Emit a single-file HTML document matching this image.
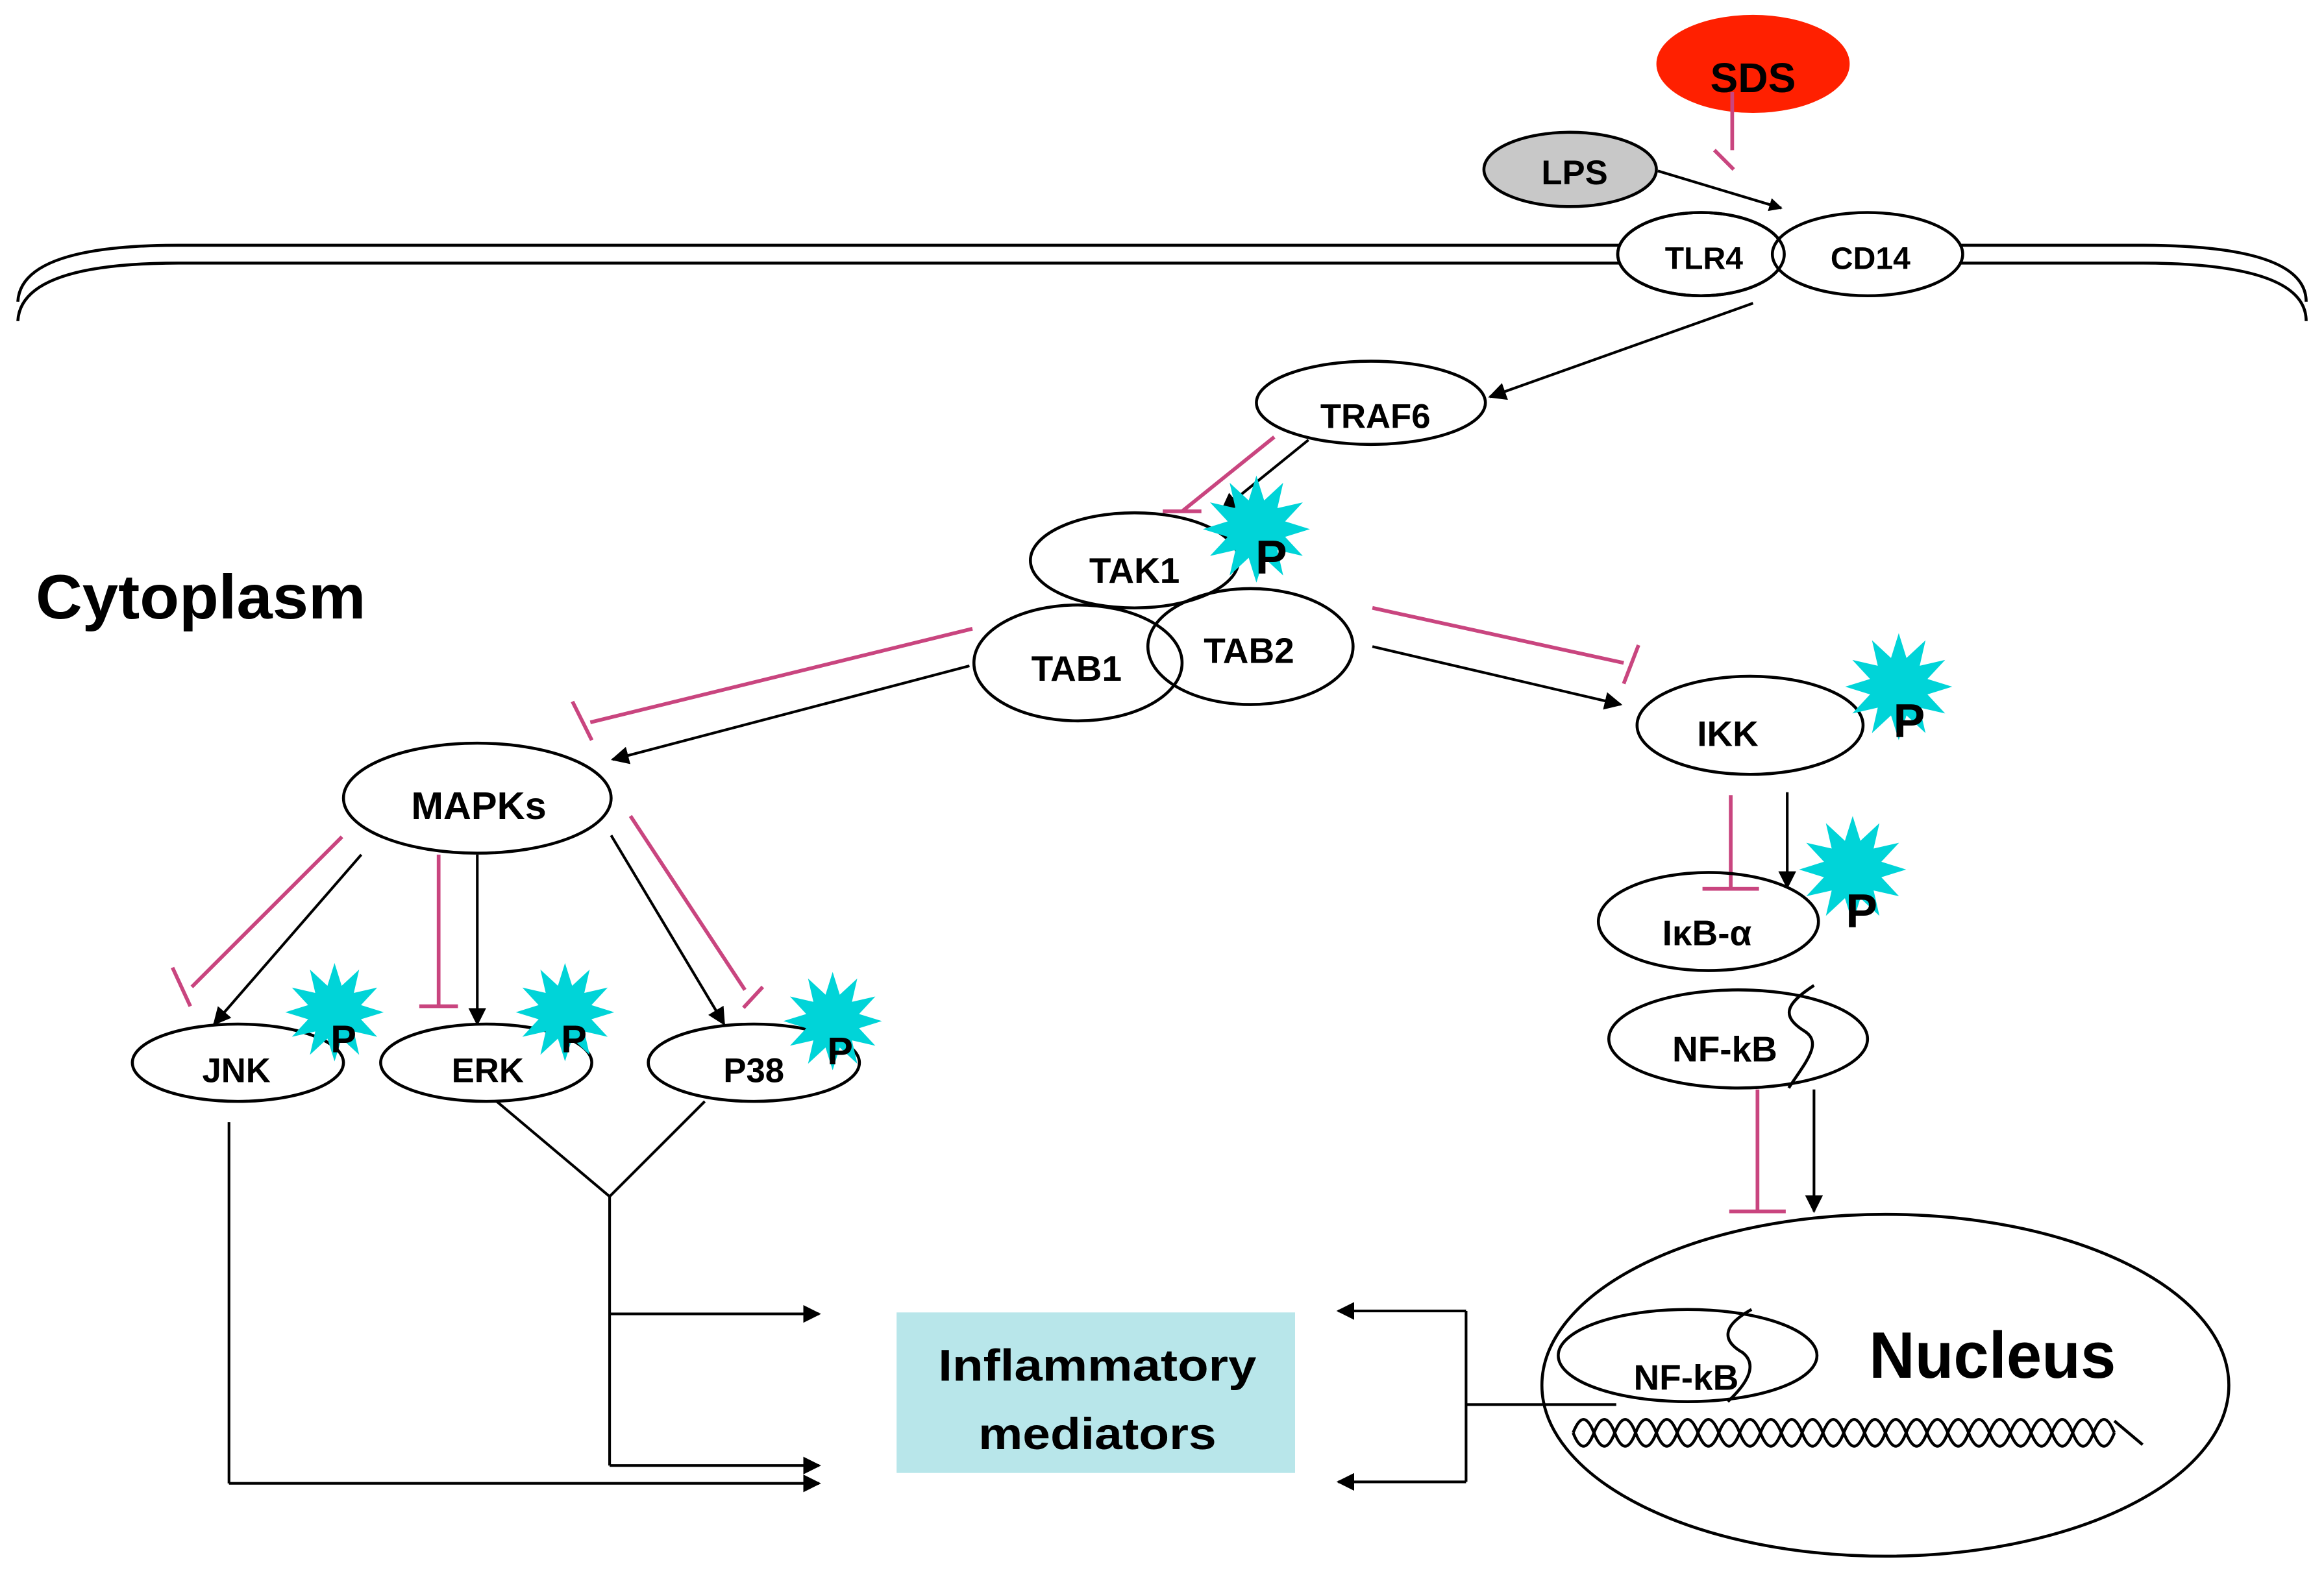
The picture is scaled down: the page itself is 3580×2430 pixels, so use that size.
<!DOCTYPE html>
<html><head><meta charset="utf-8"><style>
html,body{margin:0;padding:0;background:#fff;}
svg{display:block;}
text{font-family:"Liberation Sans",sans-serif;font-weight:bold;fill:#000;}
</style></head><body>
<svg width="3580" height="2430" viewBox="0 0 1563 1061" preserveAspectRatio="none" xmlns="http://www.w3.org/2000/svg">
<defs>
<marker id="ah" viewBox="0 0 10 10" refX="9" refY="5" markerWidth="9" markerHeight="9" markerUnits="userSpaceOnUse" orient="auto"><path d="M0,0 L10,5 L0,10 z" fill="#000"/></marker>
<marker id="ah2" viewBox="0 0 10 10" refX="9" refY="5" markerWidth="12" markerHeight="12" markerUnits="userSpaceOnUse" orient="auto"><path d="M0,0 L10,5 L0,10 z" fill="#000"/></marker>
<polygon id="star" fill="#00d4d8" points="36,0 19.3,5.2 31.2,18 14.1,14.1 18,31.2 5.2,19.3 0,36 -5.2,19.3 -18,31.2 -14.1,14.1 -31.2,18 -19.3,5.2 -36,0 -19.3,-5.2 -31.2,-18 -14.1,-14.1 -18,-31.2 -5.2,-19.3 0,-36 5.2,-19.3 18,-31.2 14.1,-14.1 31.2,-18 19.3,-5.2"/>
</defs>

<!-- membrane -->
<g fill="none" stroke="#000" stroke-width="2">
<path d="M12,203 Q14,165 120,165 L1440,165 Q1551,165 1551,203"/>
<path d="M12,216 Q14,177 120,177 L1440,177 Q1551,177 1551,216"/>
</g>

<!-- SDS / LPS -->
<ellipse cx="1179" cy="43" rx="65" ry="33" fill="#ff2000"/>
<text x="1179" y="62" font-size="28" text-anchor="middle">SDS</text>
<line x1="1165" y1="62" x2="1165" y2="101" stroke="#c9457f" stroke-width="2.5"/>
<line x1="1153" y1="101" x2="1166" y2="114" stroke="#c9457f" stroke-width="2.5"/>
<ellipse cx="1056" cy="114" rx="58" ry="25" fill="#c8c8c8" stroke="#000" stroke-width="2"/>
<text x="1059" y="124" font-size="23" text-anchor="middle">LPS</text>
<line x1="1115" y1="115" x2="1198" y2="140" stroke="#000" stroke-width="1.8" marker-end="url(#ah)"/>

<!-- TLR4 / CD14 -->
<ellipse cx="1144" cy="171" rx="56" ry="28" fill="#fff" stroke="#000" stroke-width="2"/>
<ellipse cx="1256" cy="171" rx="64" ry="28" fill="#fff" stroke="#000" stroke-width="2"/>
<ellipse cx="1144" cy="171" rx="56" ry="28" fill="none" stroke="#000" stroke-width="2"/>
<text x="1146" y="181" font-size="21" text-anchor="middle">TLR4</text>
<text x="1258" y="181" font-size="21" text-anchor="middle">CD14</text>
<line x1="1179" y1="204" x2="1002" y2="267" stroke="#000" stroke-width="1.8" marker-end="url(#ah2)"/>

<!-- TRAF6 -->
<ellipse cx="922" cy="271" rx="77" ry="28" fill="#fff" stroke="#000" stroke-width="2"/>
<text x="925" y="288" font-size="23" text-anchor="middle">TRAF6</text>
<line x1="857" y1="294" x2="795" y2="344" stroke="#c9457f" stroke-width="2.5"/>
<line x1="782" y1="344" x2="808" y2="344" stroke="#c9457f" stroke-width="2.5"/>
<line x1="880" y1="296" x2="822" y2="343" stroke="#000" stroke-width="1.8" marker-end="url(#ah2)"/>

<!-- TAK1 complex -->
<ellipse cx="763" cy="377" rx="70" ry="32" fill="none" stroke="#000" stroke-width="2"/>
<ellipse cx="725" cy="446" rx="70" ry="39" fill="none" stroke="#000" stroke-width="2"/>
<ellipse cx="841" cy="435" rx="69" ry="39" fill="none" stroke="#000" stroke-width="2"/>
<use href="#star" transform="translate(845,356) scale(1.0)"/>
<text x="763" y="392" font-size="24" text-anchor="middle">TAK1</text>
<text x="724" y="458" font-size="24" text-anchor="middle">TAB1</text>
<text x="840" y="446" font-size="24" text-anchor="middle">TAB2</text>
<text x="855" y="386" font-size="32" text-anchor="middle">P</text>

<text x="24" y="416" font-size="42" textLength="222" lengthAdjust="spacingAndGlyphs">Cytoplasm</text>

<!-- TAB to MAPKs -->
<line x1="654" y1="423" x2="397" y2="486" stroke="#c9457f" stroke-width="2.5"/>
<line x1="385" y1="472" x2="398" y2="498" stroke="#c9457f" stroke-width="2.5"/>
<line x1="652" y1="448" x2="412" y2="511" stroke="#000" stroke-width="1.8" marker-end="url(#ah2)"/>
<!-- TAB to IKK -->
<line x1="923" y1="409" x2="1092" y2="446" stroke="#c9457f" stroke-width="2.5"/>
<line x1="1102" y1="434" x2="1092" y2="460" stroke="#c9457f" stroke-width="2.5"/>
<line x1="923" y1="435" x2="1090" y2="474" stroke="#000" stroke-width="1.8" marker-end="url(#ah2)"/>

<!-- IKK -->
<ellipse cx="1177" cy="488" rx="76" ry="33" fill="#fff" stroke="#000" stroke-width="2"/>
<use href="#star" transform="translate(1277,462)"/>
<text x="1162" y="502" font-size="24" text-anchor="middle">IKK</text>
<text x="1284" y="496" font-size="32" text-anchor="middle">P</text>
<line x1="1164" y1="535" x2="1164" y2="598" stroke="#c9457f" stroke-width="2.5"/>
<line x1="1145" y1="598" x2="1183" y2="598" stroke="#c9457f" stroke-width="2.5"/>
<line x1="1202" y1="533" x2="1202" y2="597" stroke="#000" stroke-width="1.8" marker-end="url(#ah2)"/>

<!-- IkB -->
<ellipse cx="1149" cy="620" rx="74" ry="33" fill="none" stroke="#000" stroke-width="2"/>
<use href="#star" transform="translate(1246,585)"/>
<text x="1148" y="636" font-size="24" text-anchor="middle">IκB-α</text>
<text x="1252" y="624" font-size="32" text-anchor="middle">P</text>

<!-- NF-kB -->
<ellipse cx="1169" cy="699" rx="87" ry="33" fill="#fff" stroke="#000" stroke-width="2"/>
<path d="M1220,663 C1200,676 1198,684 1214,694 C1226,702 1214,715 1203,732" fill="none" stroke="#000" stroke-width="2"/>
<text x="1160" y="714" font-size="24" text-anchor="middle">NF-kB</text>
<line x1="1182" y1="733" x2="1182" y2="815" stroke="#c9457f" stroke-width="2.5"/>
<line x1="1163" y1="815" x2="1201" y2="815" stroke="#c9457f" stroke-width="2.5"/>
<line x1="1220" y1="733" x2="1220" y2="815" stroke="#000" stroke-width="1.8" marker-end="url(#ah2)"/>

<!-- Nucleus -->
<ellipse cx="1268" cy="932" rx="231" ry="115" fill="none" stroke="#000" stroke-width="2"/>
<ellipse cx="1135" cy="912" rx="87" ry="31" fill="none" stroke="#000" stroke-width="2"/>
<path d="M1178,881 C1158,892 1158,902 1172,910 C1182,918 1176,930 1162,943" fill="none" stroke="#000" stroke-width="2"/>
<text x="1134" y="935" font-size="24" text-anchor="middle">NF-kB</text>
<text x="1257" y="927" font-size="44" textLength="166" lengthAdjust="spacingAndGlyphs">Nucleus</text>
<g fill="none" stroke="#000" stroke-width="2">
<path d="M1058,964 q7,-18 14,0 t14,0 t14,0 t14,0 t14,0 t14,0 t14,0 t14,0 t14,0 t14,0 t14,0 t14,0 t14,0 t14,0 t14,0 t14,0 t14,0 t14,0 t14,0 t14,0 t14,0 t14,0 t14,0 t14,0 t14,0 t14,0"/>
<path d="M1058,964 q7,18 14,0 t14,0 t14,0 t14,0 t14,0 t14,0 t14,0 t14,0 t14,0 t14,0 t14,0 t14,0 t14,0 t14,0 t14,0 t14,0 t14,0 t14,0 t14,0 t14,0 t14,0 t14,0 t14,0 t14,0 t14,0 t14,0"/>
<line x1="1422" y1="956" x2="1441" y2="972"/>
</g>

<!-- Nucleus to mediators -->
<g stroke="#000" stroke-width="1.8" fill="none">
<line x1="1087" y1="945" x2="986" y2="945"/>
<line x1="986" y1="882" x2="986" y2="997"/>
<line x1="986" y1="882" x2="900" y2="882" marker-end="url(#ah2)"/>
<line x1="986" y1="997" x2="900" y2="997" marker-end="url(#ah2)"/>
</g>

<!-- Mediators box -->
<rect x="603" y="883" width="268" height="108" fill="#b8e6ea"/>
<text x="738" y="929" font-size="30" text-anchor="middle" textLength="214" lengthAdjust="spacingAndGlyphs">Inflammatory</text>
<text x="738" y="975" font-size="30" text-anchor="middle" textLength="160" lengthAdjust="spacingAndGlyphs">mediators</text>

<!-- MAPKs -->
<ellipse cx="321" cy="537" rx="90" ry="37" fill="#fff" stroke="#000" stroke-width="2"/>
<text x="322" y="551" font-size="26" text-anchor="middle">MAPKs</text>
<line x1="230" y1="563" x2="129" y2="664" stroke="#c9457f" stroke-width="2.5"/>
<line x1="116" y1="651" x2="128" y2="677" stroke="#c9457f" stroke-width="2.5"/>
<line x1="243" y1="575" x2="144" y2="689" stroke="#000" stroke-width="1.8" marker-end="url(#ah2)"/>
<line x1="295" y1="575" x2="295" y2="677" stroke="#c9457f" stroke-width="2.5"/>
<line x1="282" y1="677" x2="308" y2="677" stroke="#c9457f" stroke-width="2.5"/>
<line x1="321" y1="575" x2="321" y2="689" stroke="#000" stroke-width="1.8" marker-end="url(#ah2)"/>
<line x1="411" y1="562" x2="487" y2="689" stroke="#000" stroke-width="1.8" marker-end="url(#ah2)"/>
<line x1="424" y1="549" x2="501" y2="666" stroke="#c9457f" stroke-width="2.5"/>
<line x1="513" y1="664" x2="500" y2="678" stroke="#c9457f" stroke-width="2.5"/>

<!-- JNK ERK P38 -->
<ellipse cx="160" cy="715" rx="71" ry="26" fill="#fff" stroke="#000" stroke-width="2"/>
<ellipse cx="327" cy="715" rx="71" ry="26" fill="#fff" stroke="#000" stroke-width="2"/>
<ellipse cx="507" cy="715" rx="71" ry="26" fill="#fff" stroke="#000" stroke-width="2"/>
<use href="#star" transform="translate(225,681) scale(0.92)"/>
<use href="#star" transform="translate(380,681) scale(0.92)"/>
<use href="#star" transform="translate(560,687) scale(0.92)"/>
<text x="159" y="728" font-size="23" text-anchor="middle">JNK</text>
<text x="328" y="728" font-size="23" text-anchor="middle">ERK</text>
<text x="507" y="728" font-size="23" text-anchor="middle">P38</text>
<text x="231" y="708" font-size="26" text-anchor="middle">P</text>
<text x="386" y="708" font-size="26" text-anchor="middle">P</text>
<text x="565" y="716" font-size="26" text-anchor="middle">P</text>

<!-- MAPK outputs -->
<g stroke="#000" stroke-width="1.8" fill="none">
<line x1="154" y1="755" x2="154" y2="998"/>
<line x1="154" y1="998" x2="551" y2="998" marker-end="url(#ah2)"/>
<line x1="334" y1="741" x2="410" y2="805"/>
<line x1="474" y1="741" x2="410" y2="805"/>
<line x1="410" y1="805" x2="410" y2="986"/>
<line x1="410" y1="884" x2="551" y2="884" marker-end="url(#ah2)"/>
<line x1="410" y1="986" x2="551" y2="986" marker-end="url(#ah2)"/>
</g>
</svg>
</body></html>
